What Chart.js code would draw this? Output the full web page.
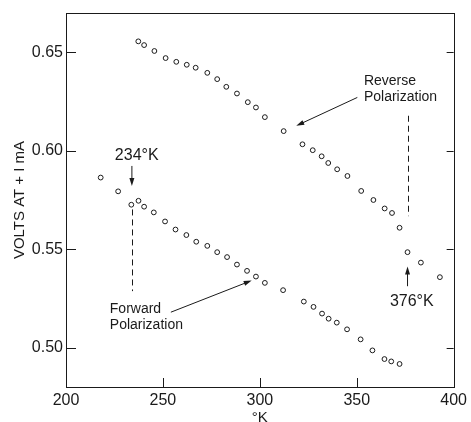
<!DOCTYPE html>
<html>
<head>
<meta charset="utf-8">
<script src="https://cdn.jsdelivr.net/npm/chart.js@4.4.0/dist/chart.umd.min.js"></script>
<style>
html, body { margin: 0; padding: 0; background: #fff; }
#c { display: block; }
</style>
</head>
<body>
<canvas id="c" width="471" height="422"></canvas>
<script>
// values
const xTicks = [200, 250, 300, 350, 400];
const yTicks = [0.50, 0.55, 0.60, 0.65];

const reverseTemp = [237.3, 240.3, 245.6, 251.4, 256.9, 262.3, 266.9, 272.9, 278.0, 282.7,
  288.2, 293.8, 298.0, 302.6, 312.3, 322.0, 327.3, 331.9, 335.3, 339.9,
  345.2, 352.3, 358.6, 364.4, 368.2, 372.1, 376.2, 383.1, 392.9];
const reverseVolts = [0.6556, 0.6537, 0.6507, 0.6471, 0.6452, 0.6437, 0.6422, 0.6396, 0.6364, 0.6325,
  0.6291, 0.6247, 0.6220, 0.6171, 0.6100, 0.6033, 0.6003, 0.5972, 0.5938, 0.5906,
  0.5872, 0.5796, 0.5750, 0.5707, 0.5684, 0.5609, 0.5485, 0.5432, 0.5358];

const forwardTemp = [217.9, 226.9, 233.7, 237.4, 240.3, 245.3, 251.1, 256.5, 262.1, 267.2,
  272.9, 278.0, 283.1, 288.2, 293.4, 298.0, 302.6, 312.0, 322.7, 327.7,
  332.1, 335.5, 339.7, 345.0, 352.0, 358.1, 364.3, 367.8, 372.1];
const forwardVolts = [0.5864, 0.5794, 0.5726, 0.5746, 0.5716, 0.5687, 0.5641, 0.5600, 0.5572, 0.5538,
  0.5517, 0.5485, 0.5460, 0.5422, 0.5390, 0.5361, 0.5329, 0.5292, 0.5234, 0.5207,
  0.5173, 0.5147, 0.5127, 0.5093, 0.5042, 0.4986, 0.4942, 0.4930, 0.4917];

// notes, in data units
const notes = [
  { text: ['234°K'], x: 236.5, y: 0.5978, align: 'center', size: 16 },
  { text: ['376°K'], x: 378.4, y: 0.5235, align: 'center', size: 16 },
  { text: ['Reverse', 'Polarization'], x: 353.7, y: 0.6353, align: 'left', size: 14, step: 0.0082 },
  { text: ['Forward', 'Polarization'], x: 222.6, y: 0.5197, align: 'left', size: 14, step: 0.0082 }
];
const arrows = [
  { from: [234, 0.5923], to: [234, 0.5821] },
  { from: [376.2, 0.5312], to: [376.2, 0.5412] },
  { from: [350.3, 0.6271], to: [318.8, 0.6127] },
  { from: [254.1, 0.5180], to: [295.8, 0.5341] }
];
const dashes = [
  { x: 234, y1: 0.5702, y2: 0.5287 },
  { x: 376.3, y1: 0.6178, y2: 0.5668 }
];

const toPoints = (xs, ys) => xs.map((v, i) => ({ x: v, y: ys[i] }));
const FONT = "'Liberation Sans', Arial, sans-serif";
const INK = '#1a1a1a';

const frameAndNotes = {
  id: 'frameAndNotes',
  afterDraw(chart) {
    const { ctx, chartArea: a, scales: { x, y } } = chart;
    ctx.save();
    ctx.strokeStyle = INK;
    ctx.lineWidth = 1;
    ctx.strokeRect(Math.round(a.left) + 0.5, Math.round(a.top) + 0.5,
      Math.round(a.right - a.left), Math.round(a.bottom - a.top));

    // inward ticks
    ctx.beginPath();
    yTicks.forEach(v => {
      const py = Math.round(y.getPixelForValue(v)) + 0.5;
      ctx.moveTo(a.left, py); ctx.lineTo(a.left + 10, py);
      ctx.moveTo(a.right, py); ctx.lineTo(a.right - 7, py);
    });
    xTicks.slice(1, -1).forEach(v => {
      const px = Math.round(x.getPixelForValue(v)) + 0.5;
      ctx.moveTo(px, a.bottom); ctx.lineTo(px, a.bottom - 9);
    });
    ctx.stroke();

    // dashed guides
    ctx.setLineDash([6, 4]);
    dashes.forEach(d => {
      const px = Math.round(x.getPixelForValue(d.x)) + 0.5;
      ctx.beginPath();
      ctx.moveTo(px, y.getPixelForValue(d.y1));
      ctx.lineTo(px, y.getPixelForValue(d.y2));
      ctx.stroke();
    });
    ctx.setLineDash([]);

    // arrows
    ctx.fillStyle = INK;
    arrows.forEach(ar => {
      const x1 = x.getPixelForValue(ar.from[0]), y1 = y.getPixelForValue(ar.from[1]);
      const x2 = x.getPixelForValue(ar.to[0]), y2 = y.getPixelForValue(ar.to[1]);
      const ang = Math.atan2(y2 - y1, x2 - x1);
      const len = 8, half = 2.5;
      ctx.beginPath();
      ctx.moveTo(x1, y1);
      ctx.lineTo(x2 - Math.cos(ang) * len * 0.8, y2 - Math.sin(ang) * len * 0.8);
      ctx.stroke();
      ctx.beginPath();
      ctx.moveTo(x2, y2);
      ctx.lineTo(x2 - Math.cos(ang) * len - Math.sin(ang) * half, y2 - Math.sin(ang) * len + Math.cos(ang) * half);
      ctx.lineTo(x2 - Math.cos(ang) * len + Math.sin(ang) * half, y2 - Math.sin(ang) * len - Math.cos(ang) * half);
      ctx.closePath();
      ctx.fill();
    });

    // labels
    ctx.textBaseline = 'middle';
    notes.forEach(n => {
      ctx.font = n.size + 'px ' + FONT;
      ctx.textAlign = n.align;
      n.text.forEach((t, i) => {
        ctx.fillText(t, x.getPixelForValue(n.x), y.getPixelForValue(n.y - i * (n.step || 0)));
      });
    });
    ctx.restore();
  }
};

const pointStyle = {
  showLine: false,
  pointRadius: 2.4,
  pointHoverRadius: 2.4,
  pointBorderWidth: 1,
  pointBorderColor: INK,
  pointBackgroundColor: '#fff'
};

new Chart(document.getElementById('c'), {
  type: 'scatter',
  data: {
    datasets: [
      { label: 'Reverse Polarization', data: toPoints(reverseTemp, reverseVolts), ...pointStyle },
      { label: 'Forward Polarization', data: toPoints(forwardTemp, forwardVolts), ...pointStyle }
    ]
  },
  options: {
    responsive: false,
    animation: false,
    devicePixelRatio: 1,
    layout: { padding: { top: 13, right: 14, left: 0, bottom: 0 } },
    plugins: { legend: { display: false }, tooltip: { enabled: false } },
    scales: {
      x: {
        type: 'linear',
        min: 200, max: 400,
        afterBuildTicks: s => { s.ticks = xTicks.map(v => ({ value: v })); },
        afterFit: s => { s.height = 35; },
        grid: { display: false, drawTicks: false },
        border: { display: false },
        ticks: { padding: 4, color: INK, font: { family: FONT, size: 16 } },
        title: { display: true, text: '°K', color: INK, font: { family: FONT, size: 15, lineHeight: 1 }, padding: { top: 0, bottom: -3 } }
      },
      y: {
        type: 'linear',
        min: 0.48, max: 0.67,
        afterBuildTicks: s => { s.ticks = yTicks.map(v => ({ value: v })); },
        afterFit: s => { s.width = 66; },
        grid: { display: false, drawTicks: false },
        border: { display: false },
        ticks: { padding: 3, color: INK, font: { family: FONT, size: 16 }, callback: v => v.toFixed(2) },
        title: { display: true, text: 'VOLTS AT + I mA', color: INK, font: { family: FONT, size: 15, lineHeight: 1.2 }, padding: { top: 11, bottom: 0 } }
      }
    }
  },
  plugins: [frameAndNotes]
});
</script>
</body>
</html>
